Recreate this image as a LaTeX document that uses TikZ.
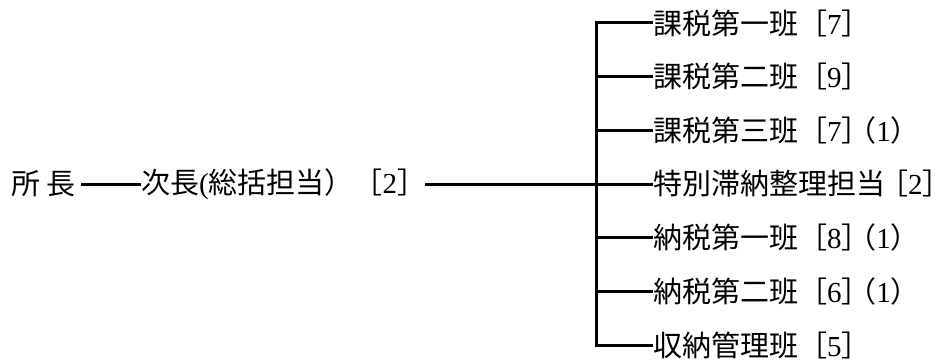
\documentclass[tikz,border=0pt]{standalone}
\usepackage{fontspec}
\setmainfont{Noto Sans CJK JP}
\newfontfamily\latinfont{Liberation Serif}
\tikzset{
  unit/.style = {anchor=west, inner sep=0pt, outer sep=0pt,
                 font=\fontsize{29pt}{34pt}\selectfont},
  link/.style = {line width=3pt}
}
% closing marks at the end of a label take half a square
\newcommand{\halfbr}{\makebox[0.5em][l]{］}}
\newcommand{\halfpar}{\makebox[0.5em][l]{）}}
\newcommand{\tight}{\kern-0.8em}
\newcommand{\dg}[1]{{\latinfont #1}}

\begin{document}
\begin{tikzpicture}[x=1pt,y=1pt]
	\def \rowgap{53.67}
	\def \trunk{596}
	\def \top{340}
	\def \lx{653}

	\useasboundingbox (0,0) rectangle (951,363);

	% Head
	\node[unit] (shocho) at (11,\top-3*\rowgap) {所 長};
	\node[unit] (jicho)  at (141,\top-3*\rowgap) {次長\dg{(}総括担当）［\dg{2}\halfbr};

	% Sections
	\node[unit] (kazei1) at (\lx,\top)           {課税第一班［\dg{7}\halfbr};
	\node[unit] (kazei2) at (\lx,\top-1*\rowgap) {課税第二班［\dg{9}\halfbr};
	\node[unit] (kazei3) at (\lx,\top-2*\rowgap) {課税第三班［\dg{7}］\tight（\dg{1}\halfpar};
	\node[unit] (tokubetsu) at (\lx,\top-3*\rowgap) {特別滞納整理担当\kern-0.2em［\dg{2}\halfbr};
	\node[unit] (nozei1) at (\lx,\top-4*\rowgap) {納税第一班［\dg{8}］\tight（\dg{1}\halfpar};
	\node[unit] (nozei2) at (\lx,\top-5*\rowgap) {納税第二班［\dg{6}］\tight（\dg{1}\halfpar};
	\node[unit] (shuno)  at (\lx,\top-6*\rowgap) {収納管理班［\dg{5}\halfbr};

	\coordinate (hub) at (\trunk,\top-3*\rowgap);

	% Lines
	\draw[link, shorten <=6pt] (shocho.east) -- (jicho.west);
	\draw[link, shorten <=13pt] (jicho.east) -- (tokubetsu.west);
	\draw[link] (kazei1.west) -| (hub) |- (shuno.west);
	\draw[link] (hub |- kazei2.west) -- (kazei2.west);
	\draw[link] (hub |- kazei3.west) -- (kazei3.west);
	\draw[link] (hub |- nozei1.west) -- (nozei1.west);
	\draw[link] (hub |- nozei2.west) -- (nozei2.west);
\end{tikzpicture}
\end{document}
